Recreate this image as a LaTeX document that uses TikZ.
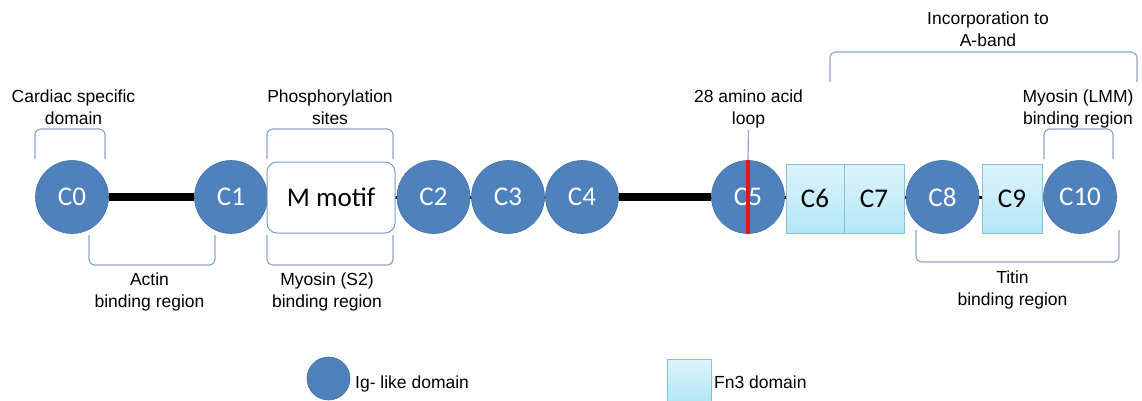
\documentclass[tikz,border=0pt]{standalone}
\usepackage{fontspec}
\setmainfont{Liberation Sans}
\newfontfamily\calfont{Carlito}
\usetikzlibrary{backgrounds}
\definecolor{igblue}{HTML}{4F81BD}
\definecolor{igborder}{HTML}{41709F}
\definecolor{fntop}{HTML}{DDF4FB}
\definecolor{fnbot}{HTML}{B3E7F6}
\definecolor{fnborder}{HTML}{86C3D6}
\definecolor{brkcol}{HTML}{8EA6C9}
\definecolor{motifborder}{HTML}{7A9CC9}
\definecolor{looped}{HTML}{E8141B}
\begin{document}
\begin{tikzpicture}[x=1pt,y=-1pt,
  ig/.style={circle, fill=igblue, draw=igborder, line width=0.6pt, minimum size=73pt, inner sep=0pt, text=white, font=\calfont\fontsize{27}{27}\selectfont},
  fnbox/.style={rectangle, draw=fnborder, line width=0.8pt, top color=fntop, bottom color=fnbot, minimum width=60pt, minimum height=69pt, inner sep=0pt, font=\calfont\fontsize{27}{27}\selectfont},
  motif/.style={rectangle, rounded corners=10pt, draw=motifborder, line width=1pt, fill=white, minimum width=128pt, minimum height=71pt, inner sep=0pt, font=\calfont\fontsize{27}{27}\selectfont},
  lbl/.style={align=center, font=\fontsize{17.5}{22}\selectfont, inner sep=0pt},
  brk/.style={draw=brkcol, line width=1.2pt, rounded corners=6pt},
  bar/.style={draw=black, line width=8pt},
  link/.style={draw=black, line width=3pt}]
\useasboundingbox (0,0) rectangle (1142,400);

% domains
\node[ig] (c0) at (72,197) {C0};
\node[ig] (c1) at (231,197) {C1};
\node[motif] (mm) at (331,197.5) {M motif};
\node[ig] (c2) at (433.5,197) {C2};
\node[ig] (c3) at (508,197) {C3};
\node[ig] (c4) at (582,197) {C4};
\node[ig] (c5) at (748,197) {C5};
\node[fnbox, minimum width=58pt] (c6) at (815,198.5) {C6};
\node[fnbox] (c7) at (874,198.5) {C7};
\node[ig] (c8) at (942.5,197) {C8};
\node[fnbox] (c9) at (1012,198.5) {C9};
\node[ig] (c10) at (1080,197) {C10};

% connectors
\begin{scope}[on background layer]
\draw[link] (c0) -- (c10);
\draw[bar] (c0) -- (c1);
\draw[bar] (c4) -- (c5);
\end{scope}
\draw[looped, line width=3.4pt] (c5.north) -- (c5.south);

% labels
\node[lbl] (cardiac) at (73.5,107) {Cardiac specific\\domain};
\node[lbl] (phos) at (330,107) {Phosphorylation\\sites};
\node[lbl] (loop) at (748.5,108.5) {28 amino acid\\loop};
\node[lbl] (lmm) at (1078,108.5) {Myosin (LMM)\\binding region};
\node[lbl] (aband) at (988,29) {Incorporation to\\A-band};
\node[lbl] (actin) at (149.5,292) {Actin\\binding region};
\node[lbl] (s2) at (327,292) {Myosin (S2)\\binding region};
\node[lbl] (titin) at (1012.5,289.5) {Titin\\binding region};

\draw[brkcol, line width=1.2pt] ([yshift=-2pt]loop.south) -- (c5.north);

% brackets
\draw[brk] (35,159) -- (35,129) -- (105,129) -- (105,159);
\draw[brk] (267,159) -- (267,129) -- (393,129) -- (393,159);
\draw[brk] (1044,159) -- (1044,129) -- (1113,129) -- (1113,159);
\draw[brk] (830,82) -- (830,52) -- (1137,52) -- (1137,82);
\draw[brk] (89,235) -- (89,265) -- (215,265) -- (215,235);
\draw[brk] (267,235) -- (267,265) -- (393,265) -- (393,235);
\draw[brk] (916,230) -- (916,262) -- (1119,262) -- (1119,230);

% legend
\node[ig, minimum size=43pt] (legig) at (328.5,378.5) {};
\node[lbl, anchor=base west] (legigtext) at (355,388) {Ig- like domain};
\node[fnbox, minimum width=44pt, minimum height=42pt] (legfn) at (689,380) {};
\node[lbl, anchor=base west] (legfntext) at (714,388) {Fn3 domain};
\end{tikzpicture}
\end{document}
